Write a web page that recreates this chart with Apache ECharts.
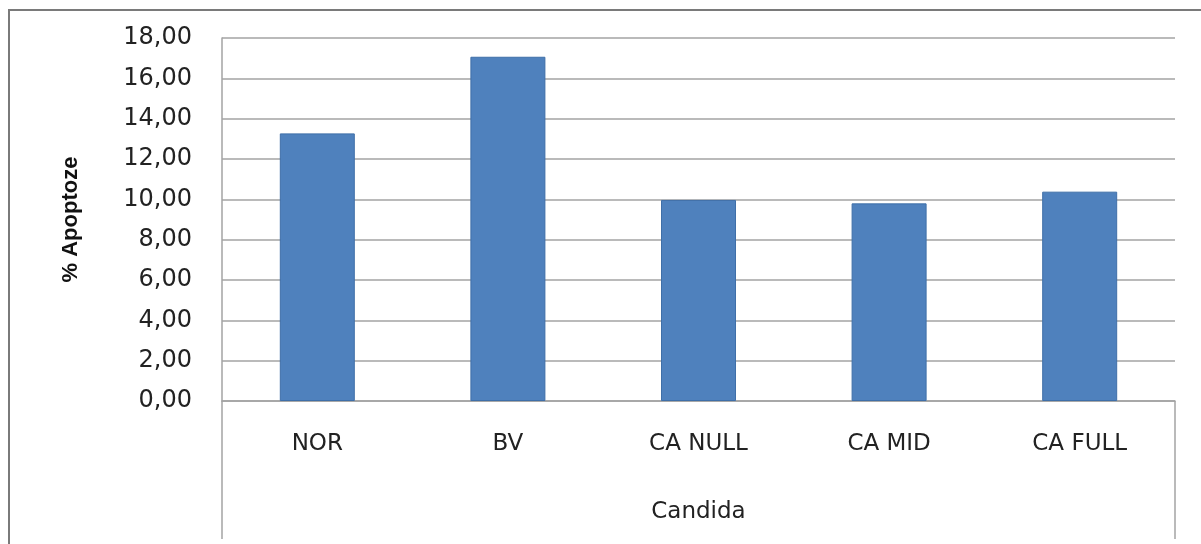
<!DOCTYPE html>
<html>
<head>
<meta charset="utf-8">
<script src="https://cdn.jsdelivr.net/npm/echarts@6/dist/echarts.min.js"></script>
<style>
html,body{margin:0;padding:0;background:#fff;}
#c{width:1201px;height:544px;}
</style>
</head>
<body>
<div id="c"></div>
<script>
const categories = ['NOR', 'BV', 'CA NULL', 'CA MID', 'CA FULL'];
const apoptosis = [13.27, 17.07, 9.97, 9.80, 10.38];
const yTicks = { min: 0, max: 18, interval: 2 };
const yTitle = '% Apoptoze';
const xTitle = 'Candida';

const G = { left: 222, right: 26, top: 38, bottom: 143 };
const W = 1201, H = 544;
const lineColor = '#a3a3a3';
const extBottom = 539;

const chart = echarts.init(document.getElementById('c'), null, { renderer: 'canvas' });
chart.setOption({
  animation: false,
  backgroundColor: '#ffffff',
  grid: { left: G.left, right: G.right, top: G.top, bottom: G.bottom, containLabel: false },
  xAxis: {
    type: 'category',
    data: categories,
    axisLine: { show: true, lineStyle: { color: lineColor, width: 1.5 } },
    axisTick: { show: false },
    axisLabel: { fontFamily: 'DejaVu Sans', fontSize: 23, color: '#222', margin: 32 },
    name: xTitle,
    nameLocation: 'middle',
    nameGap: 100,
    nameTextStyle: { fontFamily: 'DejaVu Sans', fontSize: 23, color: '#222' }
  },
  yAxis: {
    type: 'value',
    min: yTicks.min, max: yTicks.max, interval: yTicks.interval,
    axisLine: { show: true, lineStyle: { color: lineColor, width: 1.5 } },
    axisTick: { show: false },
    splitLine: { show: true, lineStyle: { color: lineColor, width: 1.5 } },
    axisLabel: {
      fontFamily: 'DejaVu Sans', fontSize: 24, color: '#222', margin: 30,
      formatter: v => v.toFixed(2).replace('.', ',')
    },
    name: yTitle,
    nameLocation: 'middle',
    nameGap: 140,
    nameRotate: 90,
    nameTextStyle: { fontFamily: '"Liberation Sans Narrow", "Liberation Sans", sans-serif', fontWeight: 'bold', fontSize: 22, color: '#111' }
  },
  series: [{
    type: 'bar',
    data: apoptosis,
    barWidth: 75,
    itemStyle: { color: '#4f81bd', borderColor: '#3f6fa8', borderWidth: 1 }
  }],
  graphic: [
    { type: 'rect', shape: { x: 9, y: 10, width: W, height: H }, style: { fill: 'none', stroke: '#7a7a7a', lineWidth: 2 }, silent: true },
    { type: 'line', shape: { x1: G.left, y1: H - G.bottom, x2: G.left, y2: extBottom }, style: { stroke: lineColor, lineWidth: 1.5 }, silent: true },
    { type: 'line', shape: { x1: W - G.right, y1: H - G.bottom, x2: W - G.right, y2: extBottom }, style: { stroke: lineColor, lineWidth: 1.5 }, silent: true }
  ]
});
</script>
</body>
</html>
